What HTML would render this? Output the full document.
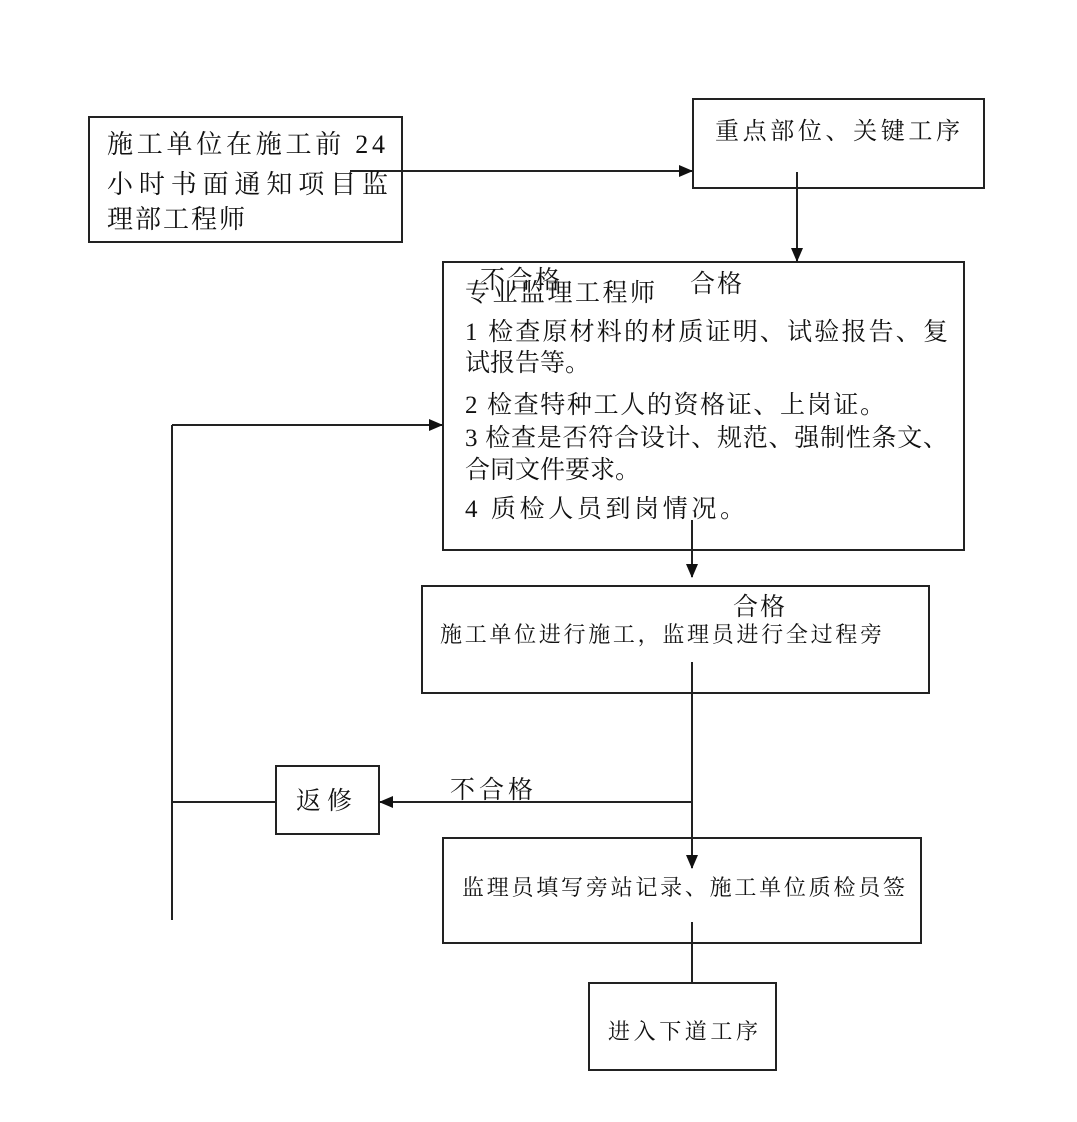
<!DOCTYPE html>
<html><head><meta charset="utf-8"><style>
html,body{margin:0;padding:0;background:#fff;}
svg text{font-family:"Liberation Serif","Noto Serif CJK SC","Noto Sans CJK SC",serif;fill:#111;}
</style></head><body>
<svg width="1077" height="1117" viewBox="0 0 1077 1117" xmlns="http://www.w3.org/2000/svg">
<defs><marker id="a" markerWidth="14" markerHeight="12" refX="13" refY="6" orient="auto" markerUnits="userSpaceOnUse"><path d="M0,0 L14,6 L0,12 z" fill="#111"/></marker></defs>
<g fill="none" stroke="#222" stroke-width="2">
<rect x="89" y="117" width="313" height="125"/>
<rect x="693" y="99" width="291" height="89"/>
<rect x="443" y="262" width="521" height="288"/>
<rect x="422" y="586" width="507" height="107"/>
<rect x="276" y="766" width="103" height="68"/>
<rect x="443" y="838" width="478" height="105"/>
<rect x="589" y="983" width="187" height="87"/>
<line x1="350" y1="171" x2="692" y2="171" marker-end="url(#a)"/>
<line x1="797" y1="172" x2="797" y2="261" marker-end="url(#a)"/>
<line x1="692" y1="520" x2="692" y2="577" marker-end="url(#a)"/>
<line x1="692" y1="662" x2="692" y2="868" marker-end="url(#a)"/>
<line x1="692" y1="802" x2="380" y2="802" marker-end="url(#a)"/>
<line x1="172" y1="802" x2="276" y2="802"/>
<line x1="172" y1="425" x2="172" y2="920"/>
<line x1="172" y1="425" x2="442" y2="425" marker-end="url(#a)"/>
<line x1="692" y1="922" x2="692" y2="983"/>
</g>
<g font-size="26" lengthAdjust="spacing">
<text x="107" y="153" textLength="278">施工单位在施工前 24</text>
<text x="107" y="193" textLength="281">小时书面通知项目监</text>
<text x="107" y="228" textLength="138">理部工程师</text>
</g>
<text x="715" y="139" font-size="24" textLength="245">重点部位、关键工序</text>
<g font-size="25">
<text x="465" y="301" textLength="190">专业监理工程师</text>
<text x="480" y="288" textLength="80">不合格</text>
<text x="690" y="292" textLength="52">合格</text>
<text x="465" y="340" textLength="483">1 检查原材料的材质证明、试验报告、复</text>
<text x="465" y="371" textLength="125">试报告等。</text>
<text x="465" y="413" textLength="420">2 检查特种工人的资格证、上岗证。</text>
<text x="465" y="446" textLength="483">3 检查是否符合设计、规范、强制性条文、</text>
<text x="465" y="478" textLength="175">合同文件要求。</text>
<text x="465" y="517" textLength="280">4 质检人员到岗情况。</text>
</g>
<text x="733" y="615" font-size="25" textLength="52">合格</text>
<text x="440" y="642" font-size="22" textLength="442">施工单位进行施工，监理员进行全过程旁</text>
<text x="450" y="798" font-size="25" textLength="83">不合格</text>
<text x="296" y="809" font-size="25" textLength="56">返修</text>
<text x="462" y="895" font-size="22" textLength="443">监理员填写旁站记录、施工单位质检员签</text>
<text x="608" y="1039" font-size="22" textLength="150">进入下道工序</text>
</svg>
</body></html>
